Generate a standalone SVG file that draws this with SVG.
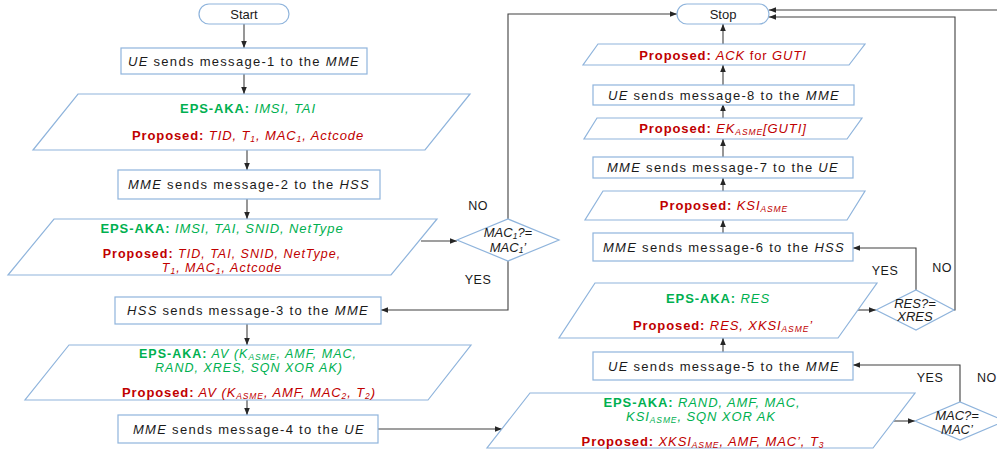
<svg xmlns="http://www.w3.org/2000/svg" width="997" height="450" viewBox="0 0 997 450">
<defs>
<marker id="ah" viewBox="0 0 10 10" refX="10" refY="5" markerWidth="7" markerHeight="7" markerUnits="userSpaceOnUse" orient="auto">
<path d="M0,1 L10,5 L0,9 Z" fill="#262626"/>
</marker>
<style>
.sh{fill:#ffffff;stroke:#8fb4dc;stroke-width:1.2}
.c{fill:none;stroke:#404040;stroke-width:1.1;marker-end:url(#ah)}
text{font-family:"Liberation Sans",Arial,sans-serif;font-size:13px;fill:#1a1a1a;text-anchor:middle}
.bx{letter-spacing:1.3px}
.pl{letter-spacing:0.9px}
.t{font-size:12.5px;letter-spacing:1px}
.g{fill:#00b050}
.r{fill:#c00000}
.b{font-weight:bold;font-style:normal}
.i{font-style:italic}
.s{font-size:8.5px}
.lb{font-size:12.5px;letter-spacing:0.5px}
</style>
</defs>
<g id="connectors">
<path class="c" d="M244,24 V48"/>
<path class="c" d="M244,74 V94"/>
<path class="c" d="M247,150 V170"/>
<path class="c" d="M247,199 V219"/>
<path class="c" d="M421,241 H457"/>
<path class="c" d="M508,219 V14 H677"/>
<path class="c" d="M508,261 V310 H381"/>
<path class="c" d="M247,324 V345"/>
<path class="c" d="M247,400 V415"/>
<path class="c" d="M378,429 H502"/>
<path class="c" d="M893,421 H915"/>
<path class="c" d="M960,402 V365 H853"/>
<path class="c" d="M1005,421 H1012 V10 H769"/>
<path class="c" d="M723,352 V338"/>
<path class="c" d="M852,310 H876"/>
<path class="c" d="M916,290 V248 H853"/>
<path class="c" d="M954,310 H955 V17 H769"/>
<path class="c" d="M723,233 V220"/>
<path class="c" d="M723,191 V178"/>
<path class="c" d="M723,157 V139"/>
<path class="c" d="M723,118 V104"/>
<path class="c" d="M723,85 V65"/>
<path class="c" d="M723,44 V24"/>
</g>
<g id="start"><rect class="sh" x="199" y="4" width="90" height="20" rx="10"/><text x="244" y="18.5">Start</text></g>
<g id="msg1"><rect class="sh" x="121" y="48" width="246" height="26"/><text class="bx" x="244" y="65.5"><tspan class="i">UE</tspan> sends message-1 to the <tspan class="i">MME</tspan></text></g>
<g id="data1"><polygon class="sh" points="78,94 470,94 425,150 33,150"/>
<text class="pl" x="248" y="112.5"><tspan class="g b">EPS-AKA:</tspan><tspan class="g i"> IMSI, TAI</tspan></text>
<text class="pl" x="248" y="139.5"><tspan class="r b">Proposed:</tspan><tspan class="r i"> TID, T<tspan class="s" dy="2">1</tspan><tspan dy="-2">, MAC</tspan><tspan class="s" dy="2">1</tspan><tspan dy="-2">, Actcode</tspan></tspan></text></g>
<g id="msg2"><rect class="sh" x="118" y="170" width="262" height="29"/><text class="bx" x="249" y="189"><tspan class="i">MME</tspan> sends message-2 to the <tspan class="i">HSS</tspan></text></g>
<g id="data2"><polygon class="sh" points="54,219 437,219 391,275 8,275"/>
<text class="pl" x="222" y="232.5"><tspan class="g b">EPS-AKA:</tspan><tspan class="g i"> IMSI, TAI, SNID, NetType</tspan></text>
<text class="t" x="222" y="257.5"><tspan class="r b">Proposed:</tspan><tspan class="r i"> TID, TAI, SNID, NetType,</tspan></text>
<text class="t r i" x="222" y="271.5">T<tspan class="s" dy="2">1</tspan><tspan dy="-2">, MAC</tspan><tspan class="s" dy="2">1</tspan><tspan dy="-2">, Actcode</tspan></text></g>
<g id="check1"><polygon class="sh" points="457,240 508,219 559,240 508,261"/>
<text class="i" x="508" y="237">MAC<tspan class="s" dy="1.5">1</tspan><tspan dy="-1.5">?=</tspan></text>
<text class="i" x="508" y="251.5">MAC<tspan class="s" dy="1.5">1</tspan><tspan dy="-1.5">’</tspan></text>
<text class="lb" x="478" y="210">NO</text><text class="lb" x="478" y="284">YES</text></g>
<g id="msg3"><rect class="sh" x="115" y="297" width="266" height="27"/><text class="bx" x="248" y="315"><tspan class="i">HSS</tspan> sends message-3 to the <tspan class="i">MME</tspan></text></g>
<g id="data3"><polygon class="sh" points="69,345 471,345 428,400 25,400"/>
<text class="t g i" x="248" y="357.5"><tspan class="b">EPS-AKA:</tspan> AV (K<tspan class="s" dy="2">ASME</tspan><tspan dy="-2">, AMF, MAC,</tspan></text>
<text class="t g i" x="249" y="371.5">RAND, XRES,  SQN XOR AK)</text>
<text class="pl r i" x="249" y="397"><tspan class="b">Proposed:</tspan> AV (K<tspan class="s" dy="2">ASME</tspan><tspan dy="-2">, AMF, MAC</tspan><tspan class="s" dy="2">2</tspan><tspan dy="-2">, T</tspan><tspan class="s" dy="2">2</tspan><tspan dy="-2">)</tspan></text></g>
<g id="msg4"><rect class="sh" x="118" y="415" width="260" height="28"/><text class="bx" x="249" y="433.5"><tspan class="i">MME</tspan> sends message-4 to the <tspan class="i">UE</tspan></text></g>
<g id="data5"><polygon class="sh" points="530,393 915,393 873,448 487,448"/>
<text class="pl g i" x="702" y="406.5"><tspan class="b">EPS-AKA:</tspan> RAND, AMF, MAC,</text>
<text class="pl g i" x="701" y="421">KSI<tspan class="s" dy="2">ASME</tspan><tspan dy="-2">,  SQN XOR AK</tspan></text>
<text class="pl r i" x="703" y="445.5"><tspan class="b">Proposed:</tspan> XKSI<tspan class="s" dy="2">ASME</tspan><tspan dy="-2">, AMF, MAC’, T</tspan><tspan class="s" dy="2">3</tspan></text></g>
<g id="check3"><polygon class="sh" points="915,421 960,402 1005,421 960,440"/>
<text class="i" x="957" y="419.5">MAC?=</text><text class="i" x="957" y="433.5">MAC’</text>
<text class="lb" x="930" y="382">YES</text><text class="lb" x="977" y="382" style="text-anchor:start">NO</text></g>
<g id="msg5"><rect class="sh" x="593" y="352" width="260" height="28"/><text class="bx" x="724" y="370.5"><tspan class="i">UE</tspan> sends message-5 to the <tspan class="i">MME</tspan></text></g>
<g id="data4"><polygon class="sh" points="595,283 877,283 838,338 559,338"/>
<text class="pl" x="718" y="302.5"><tspan class="g b">EPS-AKA:</tspan><tspan class="g i"> RES</tspan></text>
<text class="pl r i" x="723" y="329.5"><tspan class="b">Proposed:</tspan> RES, XKSI<tspan class="s" dy="2">ASME</tspan><tspan dy="-2">’</tspan></text></g>
<g id="check2"><polygon class="sh" points="876,310 916,290 954,310 916,330"/>
<text class="i" x="915" y="307.5">RES?=</text><text class="i" x="915" y="321">XRES</text>
<text class="lb" x="885" y="275">YES</text><text class="lb" x="942" y="272">NO</text></g>
<g id="msg6"><rect class="sh" x="593" y="233" width="260" height="28"/><text class="bx" x="724" y="251.5"><tspan class="i">MME</tspan> sends message-6 to the <tspan class="i">HSS</tspan></text></g>
<g id="data6"><polygon class="sh" points="603,191 865,191 847,220 585,220"/>
<text class="pl r i" x="724" y="209.5"><tspan class="b">Proposed:</tspan> KSI<tspan class="s" dy="2">ASME</tspan></text></g>
<g id="msg7"><rect class="sh" x="593" y="157" width="260" height="21"/><text class="bx" x="723" y="172"><tspan class="i">MME</tspan> sends message-7 to the <tspan class="i">UE</tspan></text></g>
<g id="data7"><polygon class="sh" points="597,118 862,118 847,139 584,139"/>
<text class="pl r i" x="723" y="132.5"><tspan class="b">Proposed:</tspan> EK<tspan class="s" dy="2">ASME</tspan><tspan dy="-2">[GUTI]</tspan></text></g>
<g id="msg8"><rect class="sh" x="593" y="85" width="261" height="20"/><text class="bx" x="724" y="99.5"><tspan class="i">UE</tspan> sends message-8 to the <tspan class="i">MME</tspan></text></g>
<g id="data8"><polygon class="sh" points="598,44 865,44 849,65 583,65"/>
<text class="pl r" x="723" y="59.5"><tspan class="b">Proposed:</tspan><tspan class="i"> ACK</tspan> for <tspan class="i">GUTI</tspan></text></g>
<g id="stop"><rect class="sh" x="677" y="4" width="92" height="20" rx="10"/><text x="723" y="18.5">Stop</text></g>
</svg>
